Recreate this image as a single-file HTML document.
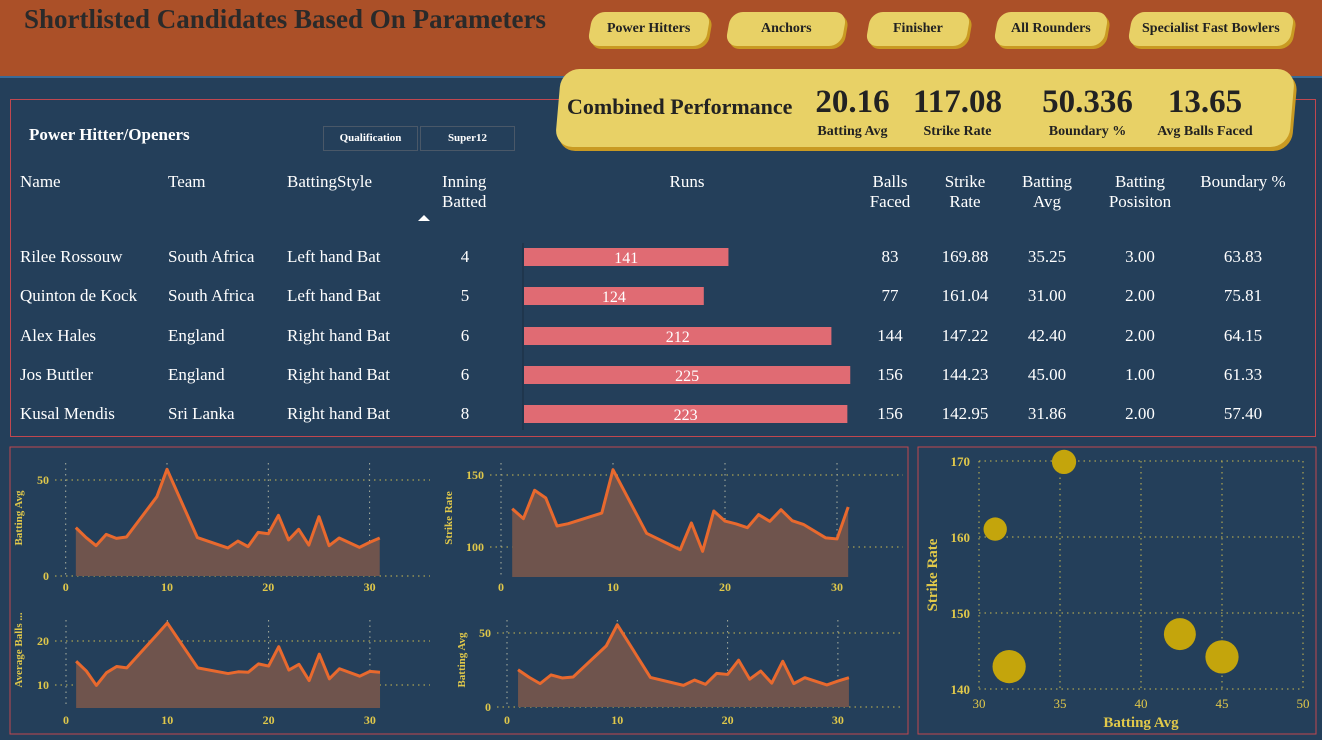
<!DOCTYPE html>
<html><head><meta charset="utf-8"><style>
body{margin:0;width:1322px;height:740px;background:#243f5a;font-family:"Liberation Serif",serif;overflow:hidden;position:relative}
.abs{position:absolute}
.hdr{left:0;top:0;width:1322px;height:76px;background:#ab5028;border-bottom:2px solid #3a6a96}
.btn{top:12px;height:34px;background:#e8d166;border-radius:12px;transform:skewX(-10deg);box-shadow:3px 3px 0 #c99a22;font-weight:bold;font-size:14px;color:#222;display:flex;align-items:center;justify-content:center}
.btn span{transform:skewX(10deg)}
.tx{color:#fff;font-size:17px;white-space:nowrap}
.c{text-align:center}
</style></head><body>
<div class="abs hdr"></div>
<div class="abs" style="left:24px;top:4px;font-size:27px;font-weight:bold;color:#2a2a2a">Shortlisted Candidates Based On Parameters</div>
<div class="abs btn" style="left:590px;width:118px"><span>Power Hitters</span></div>
<div class="abs btn" style="left:728px;width:116px"><span>Anchors</span></div>
<div class="abs btn" style="left:868px;width:100px"><span>Finisher</span></div>
<div class="abs btn" style="left:996px;width:110px"><span>All Rounders</span></div>
<div class="abs btn" style="left:1130px;width:162px"><span>Specialist Fast Bowlers</span></div>

<div class="abs" style="left:10px;top:99px;width:1304px;height:336px;border:1px solid #c0474f"></div>
<div class="abs" style="left:558px;top:69px;width:734px;height:78px;background:#e8d166;border-radius:18px;transform:skewX(-5deg);box-shadow:3px 4px 0 #c99a22"></div>
<div class="abs" style="left:567px;top:94px;font-size:22px;font-weight:bold;color:#222">Combined Performance</div>
<div class="abs c" style="left:800px;width:105px;top:84px;font-size:33px;font-weight:bold;color:#222">20.16</div>
<div class="abs c" style="left:800px;width:105px;top:124px;font-size:14px;font-weight:bold;color:#222">Batting Avg</div>
<div class="abs c" style="left:905px;width:105px;top:84px;font-size:33px;font-weight:bold;color:#222">117.08</div>
<div class="abs c" style="left:905px;width:105px;top:124px;font-size:14px;font-weight:bold;color:#222">Strike Rate</div>
<div class="abs c" style="left:1030px;width:115px;top:84px;font-size:33px;font-weight:bold;color:#222">50.336</div>
<div class="abs c" style="left:1030px;width:115px;top:124px;font-size:14px;font-weight:bold;color:#222">Boundary %</div>
<div class="abs c" style="left:1150px;width:110px;top:84px;font-size:33px;font-weight:bold;color:#222">13.65</div>
<div class="abs c" style="left:1150px;width:110px;top:124px;font-size:14px;font-weight:bold;color:#222">Avg Balls Faced</div>

<div class="abs tx" style="left:29px;top:125px;font-weight:bold">Power Hitter/Openers</div>
<div class="abs c" style="left:323px;top:126px;width:93px;height:23px;line-height:23px;border:1px solid #4a5868;color:#fff;font-size:11px;font-weight:bold">Qualification</div>
<div class="abs c" style="left:420px;top:126px;width:93px;height:23px;line-height:23px;border:1px solid #4a5868;color:#fff;font-size:11px;font-weight:bold">Super12</div>

<div id="tbl"></div>
<svg class="abs" style="left:0;top:0" width="1322" height="740" id="sv">
<path d="M418 221 L424 215 L430 221 Z" fill="#fff"/>
<rect x="10" y="447" width="898" height="287" fill="none" stroke="#c0474f"/>
<rect x="918" y="447" width="398" height="287" fill="none" stroke="#c0474f"/>
</svg>
<script>
const names=["Rilee Rossouw","Quinton de Kock","Alex Hales","Jos Buttler","Kusal Mendis"];
const teams=["South Africa","South Africa","England","England","Sri Lanka"];
const styles=["Left hand Bat","Left hand Bat","Right hand Bat","Right hand Bat","Right hand Bat"];
const innings=[4,5,6,6,8];
const runs=[141,124,212,225,223];
const balls=[83,77,144,156,156];
const srs=["169.88","161.04","147.22","144.23","142.95"];
const avgs=["35.25","31.00","42.40","45.00","31.86"];
const pos=["3.00","2.00","2.00","1.00","2.00"];
const bnd=["63.83","75.81","64.15","61.33","57.40"];
const overs=[1,2,3,4,5,6,9,10,13,16,17,18,19,20,21,22,23,24,25,26,27,29,30,31];
const batAvg=[25.2,20.1,15.8,21.7,19.6,20.3,41.3,55.6,20,14.6,18.2,15.3,22.7,22,31.6,18.8,24.3,16.1,30.9,15.8,19.8,14.9,17.5,19.8];
const strikeRate=[126.6,119.7,139.4,134,114.6,116.2,123.6,153.7,109.5,98.1,116.7,97,125,118,116,113.4,122.5,117.8,125.9,118.3,115.7,106.3,105.6,127.8];
const avgBalls=[15.4,13.2,9.9,12.8,14.2,13.9,21.5,24.1,13.9,12.6,13,12.9,14.8,14.3,18.7,13.4,14.7,11,17,11.4,13.7,12,13.1,12.9];
const xTicks=[0,10,20,30];
const scSR=[169.88,161.04,147.22,144.23,142.95];
const scAvg=[35.25,31.0,42.4,45.0,31.86];
const scTicksX=[30,35,40,45,50];
const scTicksY=[140,150,160,170];

const T=document.getElementById('tbl');
function cell(txt,x,y,w,align,name){const d=document.createElement('div');d.className='abs tx';d.style.left=x+'px';d.style.top=y+'px';if(w){d.style.width=w+'px';d.style.textAlign=align||'center';}d.innerHTML=txt;


T.appendChild(d);}
const heads=[["Name",20,0,'left'],["Team",168,0,'left'],["BattingStyle",287,0,'left'],["Inning<br>Batted",442,0,'left'],["Runs",637,100],["Balls<br>Faced",860,60],["Strike<br>Rate",935,60],["Batting<br>Avg",1017,60],["Batting<br>Posisiton",1100,80],["Boundary %",1193,100]];
heads.forEach(h=>cell(h[0],h[1],172,h[2]||0,h[3],'header-'+h[0].replace('<br>',' ').toLowerCase().replace(/[^a-z]+/g,'-')));
const rowY=[247,286,326,365,404];
const svg=document.getElementById('sv');const NS='http://www.w3.org/2000/svg';
function el(t,a,par){const e=document.createElementNS(NS,t);for(const k in a)e.setAttribute(k,a[k]);(par||svg).appendChild(e);return e;}
const runX=v=>v*1.45;
names.forEach((n,i)=>{const y=rowY[i];
cell(n,20,y,0,0,'row-name');cell(teams[i],168,y,0,0,'row-team');cell(styles[i],287,y,0,0,'row-batting-style');
cell(innings[i],435,y,60,'center','row-innings');
const b=el('rect',{x:524,y:y+1,width:runX(runs[i]),height:18,fill:'#e06b73'});


const t=el('text',{x:524+runX(runs[i])/2,y:y+16,'text-anchor':'middle',fill:'#fff','font-size':16,'font-family':'Liberation Serif'});t.textContent=runs[i];


cell(balls[i],860,y,60,'center','row-balls');cell(srs[i],935,y,60,'center','row-strike-rate');
cell(avgs[i],1017,y,60,'center','row-batting-avg');cell(pos[i],1100,y,80,'center','row-position');cell(bnd[i],1193,y,100,'center','row-boundary');
});
el('line',{x1:523,y1:243,x2:523,y2:430,stroke:'#1a2c40'});

const gc='#c8b850';
function area(o){const X=v=>o.x0+v*o.kx,Y=v=>o.yb-(v-o.vb)*o.ky;
 o.yt.forEach(v=>el('line',{x1:o.gl,x2:o.gr,y1:Y(v),y2:Y(v),stroke:gc,'stroke-dasharray':'1.5 4'}));
 xTicks.forEach(v=>{el('line',{x1:X(v),x2:X(v),y1:o.top,y2:o.bot,stroke:'#aab0a0','stroke-dasharray':'1.5 4'});
  const t=el('text',{x:X(v),y:o.lab,'text-anchor':'middle',fill:'#e0c84a','font-size':12,'font-weight':'bold','font-family':'Liberation Serif'});t.textContent=v;});
 o.yt.forEach(v=>{const t=el('text',{x:o.gl-6,y:Y(v)+4,'text-anchor':'end',fill:'#e0c84a','font-size':12,'font-weight':'bold','font-family':'Liberation Serif'});t.textContent=v;});
 let p=o.xs.map((x,i)=>X(x)+','+Y(o.ys[i])).join(' ');
 const f=el('polygon',{points:X(o.xs[0])+','+o.bot+' '+p+' '+X(o.xs[o.xs.length-1])+','+o.bot,fill:'#6f544d'});
 
 
 const l=el('polyline',{points:p,fill:'none',stroke:'#e8692e','stroke-width':3,'stroke-linejoin':'round'});
 
 
 const yl=el('text',{transform:`translate(${o.ylx},${o.yly}) rotate(-90)`,'text-anchor':'middle',fill:'#e0c84a','font-size':11,'font-weight':'bold','font-family':'Liberation Serif'});yl.textContent=o.title;
 
 
}
area({name:'batting-avg-chart',x0:65.7,kx:10.13,yb:576,vb:0,ky:1.92,yt:[0,50],gl:55,gr:430,top:463,bot:576,lab:591,xs:overs,ys:batAvg,title:'Batting Avg',ylx:22,yly:518});
area({name:'strike-rate-chart',x0:501,kx:11.2,yb:547,vb:100,ky:1.44,yt:[100,150],gl:490,gr:903,top:463,bot:577,lab:591,xs:overs,ys:strikeRate,title:'Strike Rate',ylx:452,yly:518});
area({name:'avg-balls-chart',x0:66,kx:10.13,yb:685,vb:10,ky:4.4,yt:[10,20],gl:55,gr:430,top:620,bot:708,lab:724,xs:overs,ys:avgBalls,title:'Average Balls ...',ylx:22,yly:650});
area({name:'batting-avg-chart-2',x0:507,kx:11.03,yb:707,vb:0,ky:1.48,yt:[0,50],gl:497,gr:903,top:620,bot:707,lab:724,xs:overs,ys:batAvg,title:'Batting Avg',ylx:465,yly:660});

const SX=v=>979+(v-30)*16.2,SY=v=>689-(v-140)*7.6;
scTicksY.forEach(v=>{el('line',{x1:979,x2:1303,y1:SY(v),y2:SY(v),stroke:gc,'stroke-dasharray':'1.5 4'});
 const t=el('text',{x:970,y:SY(v)+5,'text-anchor':'end',fill:'#e0c84a','font-size':13,'font-weight':'bold','font-family':'Liberation Serif'});t.textContent=v;});
scTicksX.forEach(v=>{el('line',{x1:SX(v),x2:SX(v),y1:461,y2:689,stroke:gc,'stroke-dasharray':'1.5 4'});
 const t=el('text',{x:SX(v),y:708,'text-anchor':'middle',fill:'#e0c84a','font-size':13,'font-family':'Liberation Serif'});t.textContent=v;});
scAvg.forEach((v,i)=>{const c=el('circle',{cx:SX(v),cy:SY(scSR[i]),r:1.33*Math.sqrt(balls[i]),fill:'#c4a50c'});
 
 });
const xt=el('text',{x:1141,y:727,'text-anchor':'middle',fill:'#e0c84a','font-size':15,'font-weight':'bold','font-family':'Liberation Serif'});xt.textContent='Batting Avg';


const yt=el('text',{transform:'translate(937,575) rotate(-90)','text-anchor':'middle',fill:'#e0c84a','font-size':15,'font-weight':'bold','font-family':'Liberation Serif'});yt.textContent='Strike Rate';


</script>
</body></html>
